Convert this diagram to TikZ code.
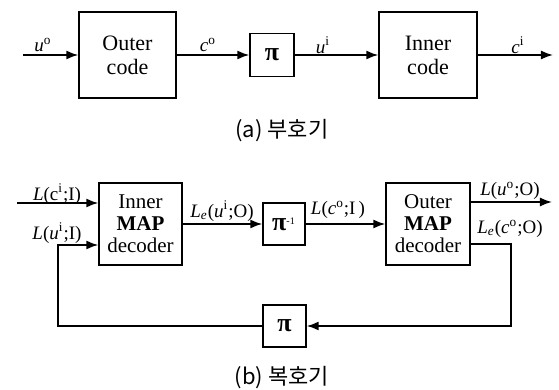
\documentclass[tikz,border=0pt]{standalone}
\usepackage{fontspec}
\setmainfont{Liberation Serif}
\newfontfamily\hangul{Noto Sans CJK KR}
\usetikzlibrary{arrows.meta}

\newcommand{\sups}[1]{\textsuperscript{#1}}
\newcommand{\subs}[1]{\textsubscript{#1}}
\newcommand{\bpi}{\fontsize{13}{13}\selectfont\textbf{π}}

\begin{document}
\begin{tikzpicture}[x=0.5pt,y=-0.5pt,
  blk/.style={draw,line width=0.7pt,inner sep=0pt,align=center,font=\fontsize{11}{12}\selectfont},
  lbl/.style={font=\fontsize{9.5}{11}\selectfont,inner sep=0pt},
  sig/.style={line width=0.8pt,-{Latex[length=6pt,width=4.5pt]}},
  capt/.style={font=\hangul\fontsize{11}{13}\selectfont}]
\useasboundingbox (0,0) rectangle (559,390);

% (a) encoder
\node[blk,minimum width=48.5pt,minimum height=43pt] (outer) at (127.5,55) {Outer\\code};
\node[blk,minimum width=22pt,minimum height=21.5pt] (pia) at (272,55) {\bpi};
\node[blk,minimum width=49pt,minimum height=43pt] (inner) at (428,55) {Inner\\code};
\coordinate (uin) at (23,55);
\coordinate (cout) at (553,55);

\draw[sig] (uin) -- (outer);
\draw[sig] (outer) -- (pia);
\draw[sig] (pia) -- (inner);
\draw[sig] (inner) -- (cout);

\node[lbl] (luo) at (43,45) {\textit{u}\sups{o}};
\node[lbl] (lco) at (208,45) {\textit{c}\sups{o}};
\node[lbl] (lui) at (323,45) {\textit{u}\sups{i}};
\node[lbl] (lci) at (518,45) {\textit{c}\sups{i}};

\node[capt] (capa) at (282,131) {(a) 부호기};

% (b) decoder
\node[blk,minimum width=41.5pt,minimum height=41pt,font=\fontsize{10.5}{11}\selectfont] (indec) at (140.5,224) {Inner\\\textbf{MAP}\\decoder};
\node[blk,minimum width=21pt,minimum height=21pt] (piinv) at (284,224) {\bpi{\fontsize{7}{7}\selectfont\sups{-1}}};
\node[blk,minimum width=42pt,minimum height=41pt,font=\fontsize{10.5}{11}\selectfont] (outdec) at (428,224) {Outer\\\textbf{MAP}\\decoder};
\node[blk,minimum width=21.5pt,minimum height=21pt] (pib) at (284.5,326) {\bpi};

\coordinate (cin) at (17,203);
\coordinate (fbi) at (58,245);
\coordinate (fbo) at (511,244);
\coordinate (uout) at (552,202);

\draw[sig] (cin) -- (cin -| indec.west);
\draw[sig] (pib.west) -| (fbi) -- (fbi -| indec.west);
\draw[sig] (indec) -- (piinv);
\draw[sig] (piinv) -- (outdec);
\draw[sig] (uout -| outdec.east) -- (uout);
\draw[sig] (fbo -| outdec.east) -- (fbo) |- (pib.east);

\node[lbl] (lcii) at (57,194) {\textit{L}(c\sups{i};I)};
\node[lbl] (luii) at (57,233) {\textit{L}(\textit{u}\sups{i};I)};
\node[lbl] (leui) at (222,211) {\textit{L}\subs{\textit{e}}(\textit{u}\sups{i};O)};
\node[lbl] (lcoi) at (338,210) {\textit{L}(\textit{c}\sups{o};I\,)};
\node[lbl] (luoo) at (510,191) {\textit{L}(\textit{u}\sups{o};O)};
\node[lbl] (leco) at (510,229) {\textit{L}\subs{\textit{e}}(\textit{c}\sups{o};O)};

\node[capt] (capb) at (282,378) {(b) 복호기};
\end{tikzpicture}
\end{document}
